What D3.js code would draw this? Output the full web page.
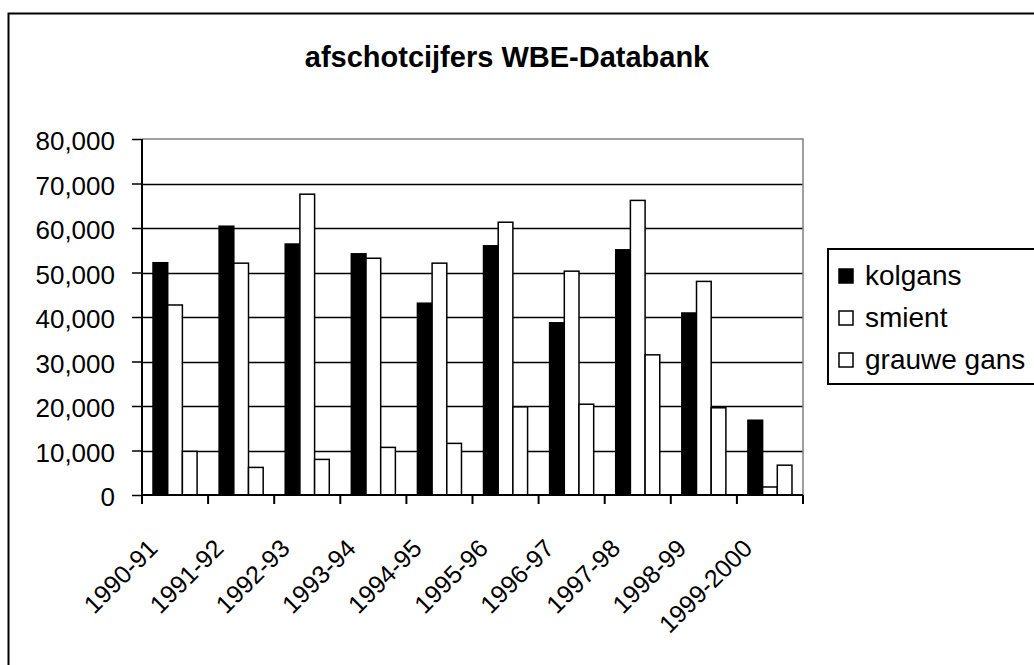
<!DOCTYPE html>
<html><head><meta charset="utf-8">
<script src="https://cdn.jsdelivr.net/npm/d3@7/dist/d3.min.js"></script>
<style>html,body{margin:0;padding:0;background:#fff;}svg{display:block;font-family:Arial,"Liberation Sans",sans-serif;}</style>
</head><body>
<svg id="c" width="1034" height="665"></svg>
<script>
const categories = ["1990-91","1991-92","1992-93","1993-94","1994-95","1995-96","1996-97","1997-98","1998-99","1999-2000"];
const seriesNames = ["kolgans","smient","grauwe gans"];
const kolgans = [52200,60400,56400,54200,43100,56000,38700,55100,40900,16800];
const smient  = [42700,52100,67600,53200,52100,61300,50300,66200,48000,1800];
const grauwe  = [9800,6200,8000,10700,11600,19800,20400,31500,19600,6700];
const seriesValues = [kolgans, smient, grauwe];
const seriesFill = ["#000000","#ffffff","#ffffff"];
const yTicks = [0,10000,20000,30000,40000,50000,60000,70000,80000];
const title = "afschotcijfers WBE-Databank";

const svg = d3.select("#c");
const L = 142, R = 803, T = 139, B = 495;

// outer chart border
svg.append("rect").attr("x",8.5).attr("y",13.5).attr("width",1100).attr("height",700)
  .attr("fill","none").attr("stroke","#000").attr("stroke-width",2);

const x = d3.scaleBand().domain(categories).range([L,R]).padding(0);
const xs = d3.scaleBand().domain(seriesNames).range([0,x.bandwidth()]).paddingInner(0).paddingOuter(0.75);
const y = d3.scaleLinear().domain([0,80000]).range([B,T]);

// gridlines
svg.append("g").selectAll("line").data(yTicks.slice(1,-1)).join("line")
  .attr("x1",L).attr("x2",R).attr("y1",d=>Math.round(y(d))+0.5).attr("y2",d=>Math.round(y(d))+0.5)
  .attr("stroke","#000").attr("stroke-width",1.3);

// plot area border top/right (gray)
svg.append("path").attr("d",`M${L},${T}H${R}V${B}`).attr("fill","none").attr("stroke","#808080").attr("stroke-width",1.5);

// bars
seriesNames.forEach((s,i)=>{
  svg.append("g").selectAll("rect").data(categories).join("rect")
    .attr("x",c=>x(c)+xs(s)).attr("width",xs.bandwidth())
    .attr("y",(c,j)=>y(seriesValues[i][j])).attr("height",(c,j)=>B-y(seriesValues[i][j]))
    .attr("fill",seriesFill[i]).attr("stroke","#000").attr("stroke-width",1.5);
});

// y axis
const ya = d3.axisLeft(y).tickValues(yTicks).tickSize(10).tickFormat(d3.format(","));
const gy = svg.append("g").attr("transform",`translate(${L},0)`).call(ya);
gy.select(".domain").attr("stroke","#000").attr("stroke-width",2).attr("d",`M0,${T}V${B}`);
gy.selectAll(".tick line").attr("stroke","#000").attr("stroke-width",1.5);
gy.selectAll(".tick text").attr("font-size",26).attr("fill","#000").attr("x",-27).attr("dy","0.42em")
  .attr("font-family","Arial, 'Liberation Sans', sans-serif");

// x axis
const xa = d3.axisBottom(x).tickSize(0).tickFormat("");
const gx = svg.append("g").attr("transform",`translate(0,${B})`).call(xa);
gx.select(".domain").attr("stroke","#000").attr("stroke-width",2).attr("d",`M${L},0H${R}`);
// category boundary ticks
const bounds = categories.map(c=>x(c)).concat([R]);
gx.append("g").selectAll("line").data(bounds).join("line")
  .attr("x1",d=>d).attr("x2",d=>d).attr("y1",0).attr("y2",9).attr("stroke","#000").attr("stroke-width",2);
// labels
svg.append("g").selectAll("text").data(categories).join("text")
  .attr("transform",c=>`translate(${x(c)+x.bandwidth()/2-16},550) rotate(-45)`)
  .attr("text-anchor","end").attr("font-size",25).attr("fill","#000").text(c=>c);

// title
svg.append("text").attr("x",507).attr("y",67).attr("text-anchor","middle")
  .attr("font-size",29).attr("font-weight","bold").attr("fill","#000").text(title);

// legend
const lg = svg.append("g");
lg.append("rect").attr("x",828).attr("y",249).attr("width",300).attr("height",135)
  .attr("fill","#fff").attr("stroke","#000").attr("stroke-width",2);
const rowY = [285,327,369];
seriesNames.forEach((s,i)=>{
  lg.append("rect").attr("x",839).attr("y",rowY[i]-16).attr("width",14).attr("height",14)
    .attr("fill",seriesFill[i]).attr("stroke","#000").attr("stroke-width",1.5);
  lg.append("text").attr("x",865).attr("y",rowY[i]).attr("font-size",28).attr("fill","#000").text(s);
});
</script>
</body></html>
